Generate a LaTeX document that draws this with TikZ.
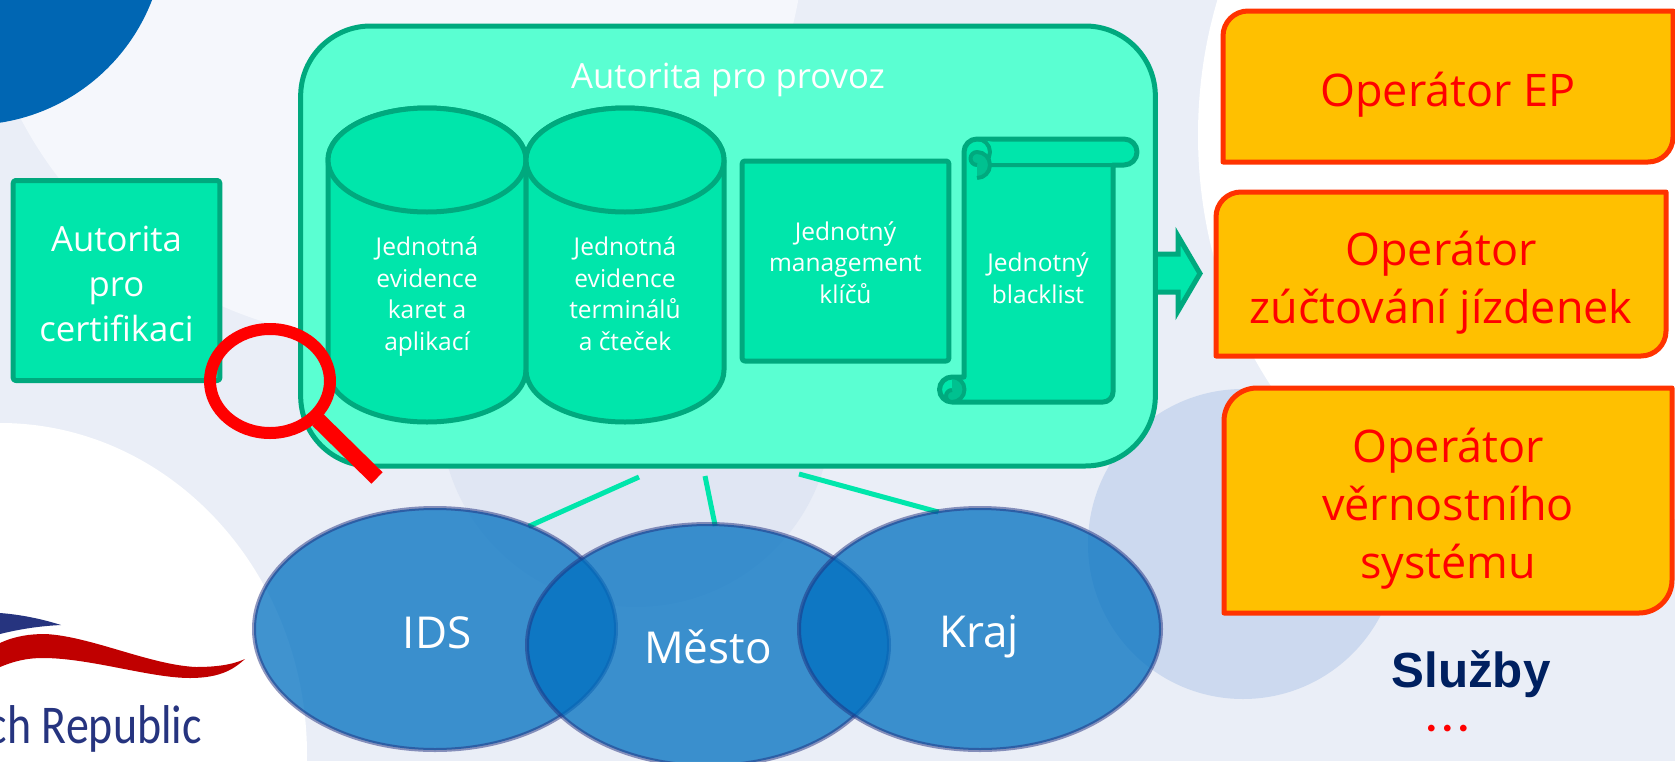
\documentclass[tikz,border=0pt]{standalone}
\usepackage{fontspec}
\setmainfont{Open Sans}
\newfontfamily\logofont[FakeStretch=0.84]{Carlito}
\newfontfamily\boldfont{Liberation Sans}
\newfontfamily\dotfont{Lato}
\usepackage{xcolor}
\usetikzlibrary{shapes.geometric, backgrounds}

\definecolor{basebg}{HTML}{EAEEF7}
\definecolor{lightbg}{HTML}{F5F7FC}
\definecolor{patchbg}{HTML}{E0E6F3}
\definecolor{circlebg}{HTML}{CCD9EF}
\definecolor{cornerblue}{HTML}{0066B3}
\definecolor{boxline}{HTML}{00A97E}
\definecolor{boxfill}{HTML}{00E6AB}
\definecolor{mainfill}{HTML}{5AFFD2}
\definecolor{opline}{HTML}{FF3300}
\definecolor{opfill}{HTML}{FFC000}
\definecolor{ringblue}{HTML}{1F2F7F}
\definecolor{discblue}{HTML}{0070C0}
\definecolor{logored}{HTML}{C00000}
\definecolor{logoblue}{HTML}{26347F}
\definecolor{sluzby}{HTML}{002060}

\tikzset{
	x=0.75pt, y=-0.75pt,
	bigtxt/.style={font=\fontsize{26}{33.4}\selectfont, text=white, align=center, anchor=base, inner sep=0pt},
	smalltxt/.style={font=\fontsize{18.4}{23.6}\selectfont, text=white, align=center, anchor=base, inner sep=0pt},
	optxt/.style={font=\fontsize{33.7}{43.5}\selectfont, text=red, align=center, anchor=base, inner sep=0pt},
	disctxt/.style={font=\fontsize{33}{38}\selectfont, text=white, anchor=base, inner sep=0pt},
	greenbox/.style={draw=boxline, fill=boxfill, line width=3.75pt, line join=round},
	opbox/.style={draw=opline, fill=opfill, line width=3.75pt, line join=round},
	disc/.style={ellipse, draw=ringblue, fill=discblue, line width=3pt, draw opacity=0.5, fill opacity=0.75, minimum width=271.5pt, minimum height=181.5pt, inner sep=0pt},
	link/.style={draw=boxfill, line width=3.75pt}
}

\newcommand{\operbox}[5]{
	\draw[opbox] (#1,#4) -- (#1,#2+#5) arc[start angle=180, end angle=270, radius=#5] -- (#3,#2) -- (#3,#4-#5) arc[start angle=0, end angle=90, radius=#5] -- cycle;
}

\begin{document}
\begin{tikzpicture}
		\useasboundingbox (0,0) rectangle (1675,761);
		\begin{scope}[on background layer]
			\fill[basebg] (0,0) rectangle (1675,761);
			\fill[lightbg] (389,-75) circle [radius=416];
			\fill[cornerblue] (-30,-70) circle [radius=195];
			\fill[white] (0,755) ellipse [x radius=307, y radius=332];
			\fill[white] (1549,135) ellipse [x radius=351, y radius=411];
			\fill[patchbg] (636,411) circle [radius=196];
			\fill[circlebg] (1243,544) circle [radius=155];
			\fill[logoblue] (0,613) .. controls (25,615) and (45,620) .. (61,625) .. controls (40,626) and (20,629) .. (0,634) -- cycle;
			\fill[logored] (0,643) .. controls (15,636) and (30,634) .. (45,634) .. controls (90,636) and (150,665) .. (196,667) .. controls (215,667) and (232,665) .. (245,659) .. controls (235,668) and (222,678) .. (190,678) .. controls (150,678) and (90,658) .. (43,658) .. controls (25,658) and (12,662) .. (0,667) -- cycle;
		\end{scope}

		\draw (728,246) node[greenbox, fill=mainfill, rounded corners=52.5pt, minimum width=641pt, minimum height=330pt] (ap) {}
		(116.5,280.5) node[greenbox, minimum width=155pt, minimum height=150pt, rounded corners=2pt] (acert) {}
		(845.5,261) node[greenbox, minimum width=155pt, minimum height=150pt, rounded corners=2pt] (mgmt) {}
		(728,88) node[bigtxt] (aptitle) {Autorita pro provoz}
		(116.5,341) node[bigtxt] (acerttxt) {Autorita\\pro\\certifikaci}
		(845.5,303) node[smalltxt] (mgmttxt) {Jednotný\\management\\klíčů};

		\foreach \cx in {427,625} {
			\draw[greenbox] (\cx-99,160) -- (\cx-99,370) arc[start angle=180, end angle=0, x radius=99, y radius=52] -- (\cx+99,160) arc[start angle=0, end angle=-180, x radius=99, y radius=52] -- cycle;
			\draw[greenbox] (\cx,160) ellipse [x radius=99, y radius=52];
		}
		\draw (427,350) node[smalltxt] (cyl1) {Jednotná\\evidence\\karet a\\aplikací}
		(625,350) node[smalltxt] (cyl2) {Jednotná\\evidence\\terminálů\\a čteček};

		\draw[greenbox] (964,152) arc[start angle=180, end angle=270, radius=13] -- (1124,139) arc[start angle=-90, end angle=90, radius=13] -- (1113,165) -- (1113,392) arc[start angle=0, end angle=90, radius=10] -- (952,402) arc[start angle=90, end angle=270, radius=12.5] -- (964,377) -- cycle;
		\draw[greenbox, line width=3pt] (977,139) arc[start angle=-90, end angle=90, radius=13] -- (1113,165);
		\draw[greenbox, line width=3pt, fill=boxline!60!boxfill] (977,165) arc[start angle=90, end angle=270, radius=6.5] arc[start angle=-90, end angle=90, radius=13] ;
		\draw[greenbox, line width=3pt, fill=boxline!60!boxfill] (952,377) arc[start angle=-90, end angle=90, radius=12.5] arc[start angle=90, end angle=270, radius=6];
		\draw (1038,303) node[smalltxt] (blist) {Jednotný\\blacklist};

		\begin{scope}[on background layer]
			\draw[greenbox, line join=miter] (1140,254) -- (1178,254) -- (1178,236) -- (1200,273.5) -- (1178,311) -- (1178,292) -- (1140,292) -- cycle;
		\end{scope}

		\draw (435,629) node[disc] (ids) {}
		(708,645) node[disc] (mesto) {}
		(980,629) node[disc] (kraj) {}
		(437,648) node[disctxt] (idstxt) {IDS}
		(708,663) node[disctxt] (mestotxt) {Město}
		(979,647) node[disctxt] (krajtxt) {Kraj};

		\coordinate (lid) at (639,477);
		\coordinate (lme) at (705,476);
		\coordinate (lkr) at (799,474);
		\begin{scope}[on background layer]
			\draw[link, shorten >=-3pt] (lid) -- (ids.47);
			\draw[link, shorten >=-3pt] (lme) -- (mesto.87);
			\draw[link, shorten >=-5pt] (lkr) -- (kraj.112);
		\end{scope}

		\draw[red, line width=9pt] (270,381) ellipse [x radius=60, y radius=52];
		\draw[red, line width=12pt] (318,420) -- (377,478);

		\operbox{1223}{11}{1673}{162}{25}
		\operbox{1216}{192}{1666}{356}{25}
		\operbox{1224}{388}{1672}{613}{33}
		\draw (1448,106) node[optxt] (op1) {Operátor EP}
		(1441,323) node[optxt] (op2) {Operátor\\zúčtování jízdenek}
		(1448,578) node[optxt] (op3) {Operátor\\věrnostního\\systému};

		\draw (1471,687) node[anchor=base, inner sep=0pt, font=\boldfont\bfseries\fontsize{37}{40}\selectfont, text=sluzby] (sluz) {Služby}
		(1448,731) node[anchor=base, inner sep=0pt, font=\dotfont\fontsize{40}{40}\selectfont, text=red] (dots) {.\hspace{2.4pt}.\hspace{2.4pt}.}
		(202,743) node[anchor=base east, inner sep=0pt, font=\logofont\fontsize{41}{44}\selectfont, text=logoblue] (logo) {ch Republic};
	\end{tikzpicture}
\end{document}
